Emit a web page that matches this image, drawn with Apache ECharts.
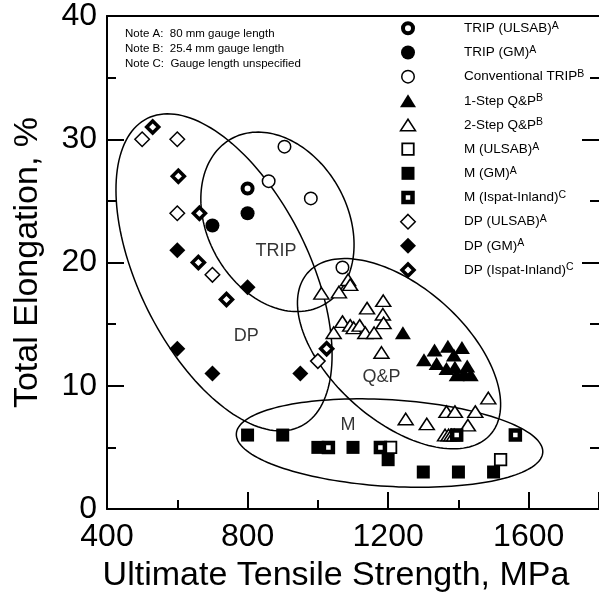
<!DOCTYPE html>
<html>
<head>
<meta charset="utf-8">
<script src="https://cdn.jsdelivr.net/npm/echarts@6/dist/echarts.min.js"></script>
<style>
  html, body { margin: 0; padding: 0; background: #fff; }
  #chart { width: 599px; height: 600px; }
</style>
</head>
<body>
<div id="chart"></div>
<script>
// --- DATA ---
const seriesNames = ['TRIP (ULSAB)', 'TRIP (GM)', 'Conventional TRIP', '1-Step Q&P', '2-Step Q&P',
  'M (ULSAB)', 'M (GM)', 'M (Ispat-Inland)', 'DP (ULSAB)', 'DP (GM)', 'DP (Ispat-Inland)'];
const seriesNotes = ['A', 'A', 'B', 'B', 'B', 'A', 'A', 'C', 'A', 'A', 'C'];

const tripUlsab = [[800, 26]];
const tripGm = [[700, 23], [800, 24]];
const tripConv = [[860, 26.6], [905, 29.4], [980, 25.2], [1070, 19.6]];
const qp1Step = [[1242, 14.3], [1302, 12.1], [1332, 12.9], [1338, 11.8], [1366, 11.4], [1370, 13.2],
  [1387, 12.5], [1390, 11.5], [1395, 10.9], [1410, 13.1], [1416, 11.0], [1425, 11.6], [1435, 10.9]];
const qp2Step = [[1010, 17.5], [1060, 17.6], [1086, 18.6], [1092, 18.2], [1140, 16.3], [1186, 16.9],
  [1185, 15.8], [1187, 15.1], [1045, 14.3], [1070, 15.2], [1092, 14.9], [1102, 14.7], [1119, 14.9],
  [1135, 14.3], [1160, 14.3], [1181, 12.7], [1250, 7.3], [1310, 6.9], [1366, 7.9], [1390, 7.9],
  [1448, 7.9], [1427, 6.8], [1485, 9.0], [1362, 6.0], [1372, 6.0], [1380, 6.0], [1388, 6.0]];
const mUlsab = [[1207, 5], [1520, 4]];
const mGm = [[800, 6], [900, 6], [1000, 5], [1100, 5], [1200, 4], [1300, 3], [1400, 3], [1500, 3]];
const mIspat = [[1030, 5], [1178, 5], [1395, 6], [1562, 6]];
const dpUlsab = [[500, 30], [600, 30], [600, 24], [700, 19], [1000, 12]];
const dpGm = [[600, 21], [800, 18], [600, 13], [700, 11], [950, 11]];
const dpIspat = [[530, 31], [603, 27], [663, 24], [660, 20], [740, 17], [1025, 13]];

const notes = ['Note A:  80 mm gauge length', 'Note B:  25.4 mm gauge length', 'Note C:  Gauge length unspecified'];

// regions: outline centre and label position, in axis units
const regionNames = ['TRIP', 'DP', 'Q&P', 'M'];
const regionCenters = [[885, 23.3], [733, 19.2], [1231, 12.6], [1204, 5.35]];
const regionLabels = [[881, 20.9], [796, 14.0], [1181, 10.7], [1086, 6.8]];

// outline shapes in px: semi-major, semi-minor, tilt (deg)
const regionShapes = [[95, 70, 61], [172, 85, 63.5], [122, 67, 41.5], [153.5, 43.3, 3.5]];

const FONT = 'Liberation Sans, Arial, sans-serif';

// symbol styles per series
const looks = [
  { symbol: 'circle', size: [10, 10], itemStyle: { color: '#fff', borderColor: '#000', borderWidth: 4 } },
  { symbol: 'circle', size: [14, 14], itemStyle: { color: '#000', borderWidth: 0 } },
  { symbol: 'circle', size: [12.5, 12.5], itemStyle: { color: '#fff', borderColor: '#000', borderWidth: 1.5 } },
  { symbol: 'triangle', size: [16, 13], itemStyle: { color: '#000', borderWidth: 0 } },
  { symbol: 'triangle', size: [15, 11.5], itemStyle: { color: '#fff', borderColor: '#000', borderWidth: 1.5 } },
  { symbol: 'rect', size: [11.5, 11.5], itemStyle: { color: '#fff', borderColor: '#000', borderWidth: 1.8 } },
  { symbol: 'rect', size: [13, 13], itemStyle: { color: '#000', borderWidth: 0 } },
  { symbol: 'rect', size: [9, 9], itemStyle: { color: '#fff', borderColor: '#000', borderWidth: 4.5 } },
  { symbol: 'diamond', size: [14.5, 14.5], itemStyle: { color: '#fff', borderColor: '#000', borderWidth: 1.5 } },
  { symbol: 'diamond', size: [16, 16], itemStyle: { color: '#000', borderWidth: 0 } },
  { symbol: 'diamond', size: [12, 12], itemStyle: { color: '#fff', borderColor: '#000', borderWidth: 3.5 } }
];
const allData = [tripUlsab, tripGm, tripConv, qp1Step, qp2Step, mUlsab, mGm, mIspat, dpUlsab, dpGm, dpIspat];

function renderOutline(params, api) {
  const [a, b, deg] = regionShapes[api.value(2)];
  const c = api.coord([api.value(0), api.value(1)]);
  const th = deg * Math.PI / 180;
  const pts = [];
  for (let k = 0; k < 160; k++) {
    const t = k / 160 * Math.PI * 2;
    const u = a * Math.cos(t);
    const v = b * Math.sin(t);
    pts.push([c[0] + u * Math.cos(th) - v * Math.sin(th), c[1] + u * Math.sin(th) + v * Math.cos(th)]);
  }
  return { type: 'polygon', shape: { points: pts }, style: { fill: 'none', stroke: '#000', lineWidth: 1.5 }, silent: true };
}

const chart = echarts.init(document.getElementById('chart'), null, { renderer: 'canvas' });

const axisLine = { show: true, onZero: false, lineStyle: { color: '#000', width: 2 } };
const tick = { show: true, inside: true, length: 17, lineStyle: { color: '#000', width: 2 } };
const minor = { show: true, splitNumber: 2, length: 9, lineStyle: { color: '#000', width: 2 } };

const scatterSeries = allData.map((d, i) => ({
  name: seriesNames[i], type: 'scatter', data: d, z: 3 + i * 0.01,
  symbol: looks[i].symbol, symbolSize: looks[i].size,
  itemStyle: Object.assign({ opacity: 1 }, looks[i].itemStyle),
  emphasis: { disabled: true }
}));

// one legend per row so each key keeps its own symbol size
const legendX = 408, legendTextX = 464, legendTop = 20.3, legendStep = 24.17;
const legends = seriesNames.map((n, i) => {
  const [w, h] = looks[i].size;
  const bw = looks[i].itemStyle.borderWidth || 0;
  return {
    orient: 'vertical', left: legendX - w / 2 - bw / 2, top: legendTop + i * legendStep, padding: 0,
    itemWidth: w, itemHeight: h, symbolKeepAspect: false, selectedMode: false,
    data: [{ name: n, icon: looks[i].symbol, itemStyle: Object.assign({ opacity: 1 }, looks[i].itemStyle) }],
    formatter: name => `{t|${name}}{s|${seriesNotes[i]}}`,
    textStyle: {
      color: '#000', fontFamily: FONT,
      rich: {
        t: { fontSize: 13.5, lineHeight: 16, color: '#000', fontFamily: FONT, padding: [0, 0, 0, legendTextX - legendX - w / 2 - 5] },
        s: { fontSize: 10.5, lineHeight: 9, verticalAlign: 'top', color: '#000', fontFamily: FONT }
      }
    }
  };
});

chart.setOption({
  animation: false,
  backgroundColor: '#fff',
  textStyle: { fontFamily: FONT, color: '#000' },
  title: {
    text: notes.join('\n'), left: 125, top: 26, padding: 0,
    textStyle: { fontSize: 11.5, lineHeight: 15, fontWeight: 'normal', color: '#000', fontFamily: FONT }
  },
  grid: { left: 107, right: 0, top: 16, bottom: 91 },
  legend: legends,
  xAxis: [{
    type: 'value', min: 400, max: 1800, interval: 400, position: 'bottom',
    name: 'Ultimate Tensile Strength, MPa', nameLocation: 'middle', nameGap: 50,
    nameTextStyle: { fontSize: 34, color: '#000', fontFamily: FONT, padding: [0, 34, 0, 0] },
    axisLine, axisTick: tick, minorTick: minor, splitLine: { show: false },
    axisLabel: { fontSize: 32, color: '#000', margin: 12, showMaxLabel: false, fontFamily: FONT, formatter: v => String(v) }
  }, {
    type: 'value', min: 400, max: 1800, position: 'top',
    axisLine, axisTick: { show: false }, axisLabel: { show: false }, splitLine: { show: false }
  }],
  yAxis: [{
    type: 'value', min: 0, max: 40, interval: 10, position: 'left',
    name: 'Total Elongation, %', nameLocation: 'middle', nameGap: 62,
    nameTextStyle: { fontSize: 34, color: '#000', fontFamily: FONT },
    axisLine, axisTick: tick, minorTick: minor, splitLine: { show: false },
    axisLabel: { fontSize: 32, color: '#000', margin: 10, fontFamily: FONT, formatter: v => String(v) }
  }, {
    type: 'value', min: 0, max: 40, interval: 10, position: 'right',
    axisLine: { show: false }, axisTick: tick, minorTick: minor, splitLine: { show: false }, axisLabel: { show: false }
  }],
  series: [
    {
      type: 'custom', name: 'outlines', renderItem: renderOutline, silent: true, z: 2,
      data: regionCenters.map((c, i) => [c[0], c[1], i])
    },
    {
      type: 'scatter', name: 'regions', symbolSize: 0, silent: true, z: 2,
      data: regionLabels.map((p, i) => ({ value: p, name: regionNames[i] })),
      label: { show: true, position: 'inside', formatter: '{b}', fontSize: 18, color: '#000', fontFamily: FONT }
    },
    ...scatterSeries
  ]
});
</script>
</body>
</html>
